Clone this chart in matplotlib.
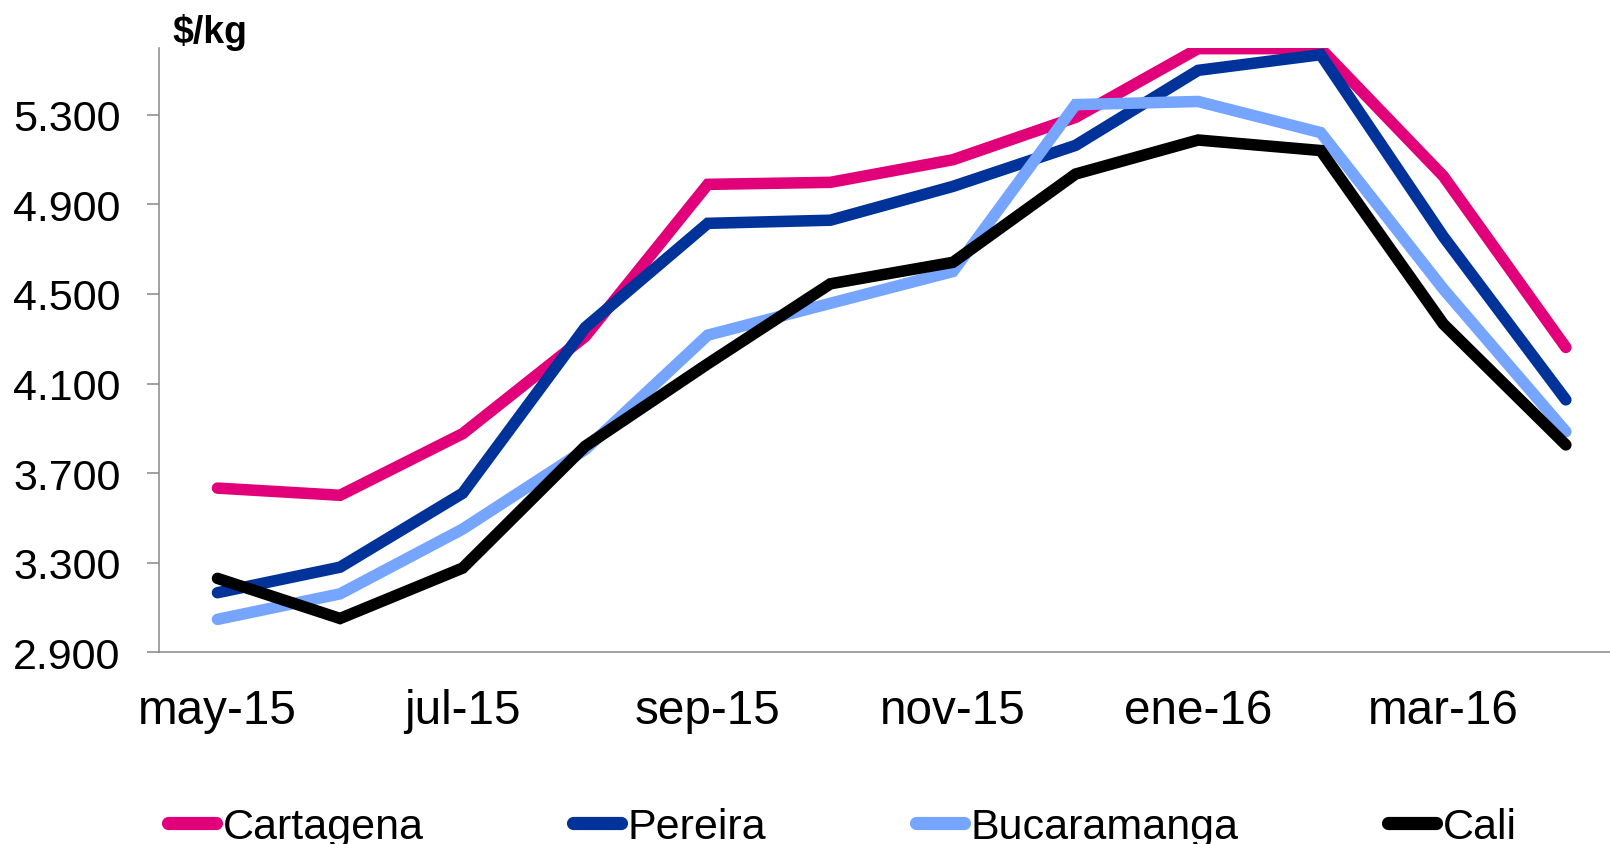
import matplotlib
matplotlib.use("Agg")
import matplotlib.pyplot as plt

plt.rcParams['font.family'] = ['Liberation Sans', 'DejaVu Sans']

months = ['may-15', 'jun-15', 'jul-15', 'ago-15', 'sep-15', 'oct-15',
          'nov-15', 'dic-15', 'ene-16', 'feb-16', 'mar-16', 'abr-16']
cartagena = [3633, 3601, 3876, 4310, 4989, 4998, 5099, 5288, 5595, 5595, 5026, 4261]
pereira = [3166, 3280, 3610, 4350, 4815, 4829, 4980, 5163, 5498, 5568, 4756, 4027]
bucaramanga = [3047, 3161, 3450, 3805, 4316, 4458, 4600, 5345, 5359, 5220, 4522, 3885]
cali = [3230, 3051, 3276, 3820, 4188, 4545, 4641, 5035, 5187, 5140, 4366, 3826]

series = [('Cartagena', cartagena, '#E2007A'),
          ('Pereira', pereira, '#003399'),
          ('Bucaramanga', bucaramanga, '#75A5FF'),
          ('Cali', cali, '#000000')]

yticks = [2900, 3300, 3700, 4100, 4500, 4900, 5300]
ytick_labels = ['2.900', '3.300', '3.700', '4.100', '4.500', '4.900', '5.300']
xtick_pos = [0, 2, 4, 6, 8, 10]

fig = plt.figure(figsize=(16.1, 8.45), dpi=100)
ax = fig.add_axes([159 / 1610, 191.7 / 845, 1 - 159 / 1610, (653.3 - 48.5) / 845])

x = list(range(len(months)))
for name, vals, col in series:
    ax.plot(x, vals, color=col, lw=8.3, solid_capstyle='round',
            solid_joinstyle='miter', label=name)

ax.set_xlim(-0.477, 11.36)
ax.set_ylim(2900, 5600)
ax.set_yticks(yticks)
ax.set_yticklabels(ytick_labels)
ax.set_xticks(xtick_pos)
ax.set_xticklabels([months[i] for i in xtick_pos])

for s in ['top', 'right']:
    ax.spines[s].set_visible(False)
for s in ['left', 'bottom']:
    ax.spines[s].set_color('#888888')
    ax.spines[s].set_linewidth(1.1)

ax.tick_params(axis='y', length=8.6, width=1.1, color='#888888', pad=19,
               labelsize=31)
ax.tick_params(axis='x', length=0, pad=26, labelsize=34.3)

fig.text(172 / 1610, 1 - 43 / 845, '$/kg', fontsize=27, fontweight='bold',
         ha='left', va='baseline')

leg = fig.legend(loc='center', bbox_to_anchor=(0.5232, 0.020), ncol=4, frameon=False,
                 fontsize=31, handlelength=1.12, handletextpad=0.15,
                 columnspacing=3.47)
for h in leg.get_lines():
    h.set_linewidth(9.5)

fig.savefig('out.png', dpi=100)
